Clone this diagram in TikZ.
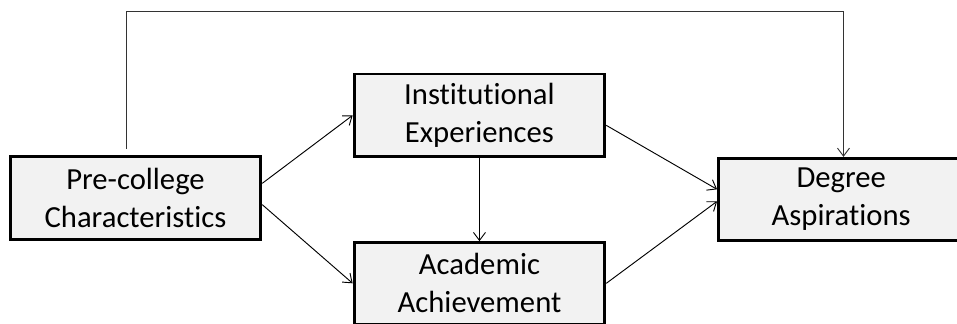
\documentclass[tikz,border=0pt]{standalone}
\usepackage{fontspec}
\setmainfont{Carlito}[Ligatures={NoCommon,NoDiscretionary}]
\usetikzlibrary{arrows.meta, positioning}

\begin{document}
\begin{tikzpicture}[on grid, >={Straight Barb[length=6pt,width=9pt]},
        every node/.style={font=\fontsize{23}{28.5}\selectfont},
        factor/.style={draw, line width=2.2pt, fill=black!5, align=center, inner sep=0pt, minimum width=188pt, minimum height=62pt}]
        \useasboundingbox (0,0) rectangle (717.75pt,-243pt);
        \node[factor] (pre) at (101.6pt,-148.5pt) {Pre-college\\Characteristics};
        \node[factor, above right=62pt and 258pt of pre] (inst) {Institutional\\Experiences};
        \node[factor, below=126pt of inst, minimum height=61pt] (acad) {Academic\\Achievement};
        \node[factor, below right=63pt and 271.3pt of inst, minimum width=184pt, minimum height=61.5pt] (deg) {Degree\\Aspirations};
        \coordinate (top) at (0,-8.25pt);
        \coordinate (degtop) at ([xshift=1.7pt]deg.north);

        \path[->, line width=0.7pt]
        ([yshift=11pt]pre.east) edge (inst.west)
        ([yshift=-5pt]pre.east) edge (acad.west)
        (inst.south) edge (acad.north)
        ([yshift=-7.5pt]inst.east) edge ([yshift=7.5pt]deg.west)
        (acad.east) edge ([yshift=-1.5pt]deg.west);
        \draw[->, line width=0.7pt, black!80] ([xshift=-6.4pt,yshift=4.5pt]pre.north) |- (degtop |- top) -- (degtop);
    \end{tikzpicture}
\end{document}
